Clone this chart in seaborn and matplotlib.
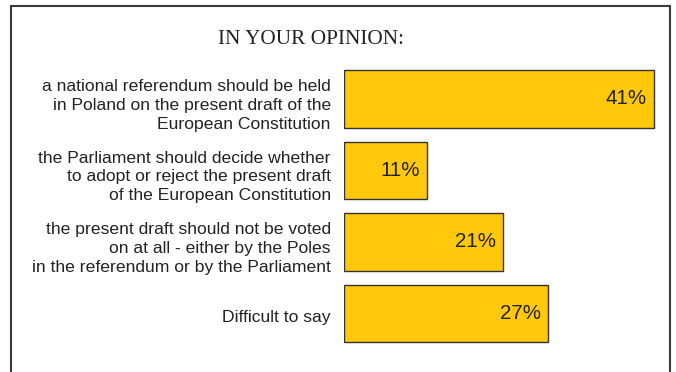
import matplotlib
matplotlib.use("Agg")
import matplotlib.pyplot as plt
import matplotlib.transforms as mtransforms
import seaborn as sns
import pandas as pd
from matplotlib.patches import Rectangle

categories = [
    "a national referendum should be held\nin Poland on the present draft of the\nEuropean Constitution",
    "the Parliament should decide whether\nto adopt or reject the present draft\nof the European Constitution",
    "the present draft should not be voted\non at all - either by the Poles\nin the referendum or by the Parliament",
    "Difficult to say",
]
values = [41, 11, 21, 27]
value_labels = ["41%", "11%", "21%", "27%"]
title = "IN YOUR OPINION:"

df = pd.DataFrame({"answer": categories, "share": values})

sns.set_theme(style="white")
plt.rcParams["font.family"] = ["Liberation Sans", "DejaVu Sans"]

fig = plt.figure(figsize=(6.76, 3.72), dpi=100)
ax = fig.add_axes([0.5089, 0.0612, 0.4808, 0.7688])

bar_color = "#FFC80A"
sns.barplot(data=df, x="share", y="answer", orient="h", color=bar_color,
            saturation=1, width=0.80, edgecolor="#333333", linewidth=1.0, ax=ax)

ax.set_xlim(0, 43)
ax.set_ylim(3.5, -0.5)
ax.set_xlabel("")
ax.set_ylabel("")
ax.set_xticks([])
for s in ax.spines.values():
    s.set_visible(False)
ax.tick_params(axis="y", length=0, pad=9.5, labelsize=12.6, labelcolor="#222222")
# answer texts sit a few pixels below the bar centres
nudge = mtransforms.ScaledTranslation(0, -3 / 100, fig.dpi_scale_trans)
for t in ax.get_yticklabels():
    t.set_linespacing(1.33)
    t.set_transform(t.get_transform() + nudge)
ax.set_facecolor("none")

for i, (v, lab) in enumerate(zip(values, value_labels)):
    ax.text(v - 0.95, i, lab, ha="right", va="center", fontsize=14.8, color="#222222")

fig.text(311 / 676, 1 - 39.5 / 372, title, ha="center", va="center",
         fontsize=15.3, family=["Liberation Serif", "DejaVu Serif"], color="#222222")

# outer frame, open at the bottom
frame = Rectangle((11 / 676, -0.1), (670 - 11) / 676, 1.1 - 6 / 372,
                  transform=fig.transFigure, fill=False, edgecolor="#3a3a3a",
                  linewidth=1.5, zorder=10)
fig.patches.append(frame)

fig.savefig("out.png", dpi=100, facecolor="white")
